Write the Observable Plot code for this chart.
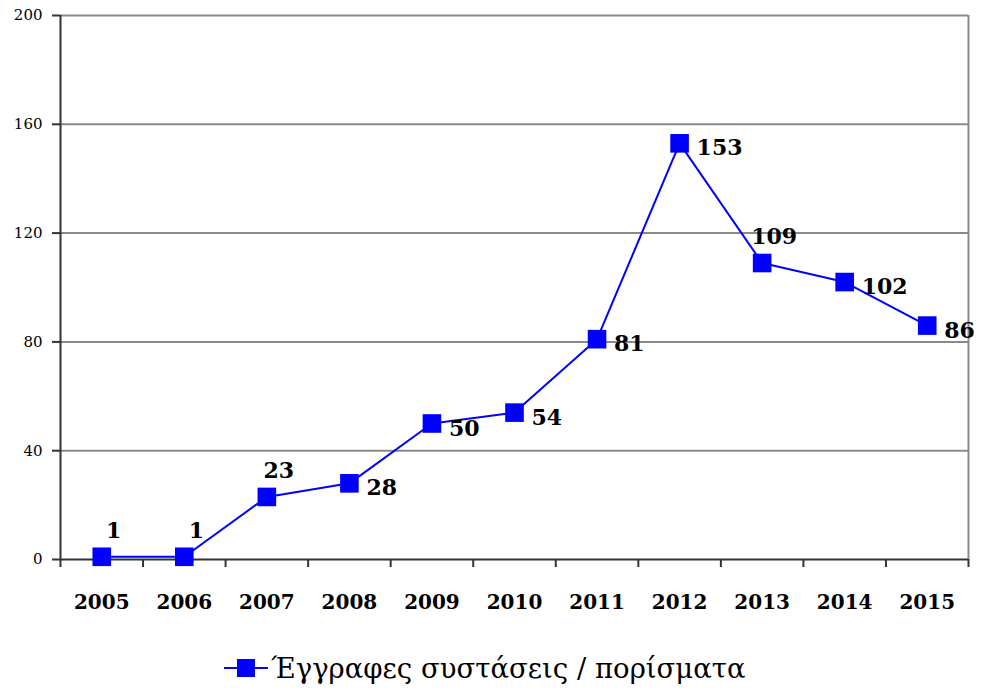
<!DOCTYPE html>
<html>
<head>
<meta charset="utf-8">
<script src="https://cdn.jsdelivr.net/npm/d3@7"></script>
<script src="https://cdn.jsdelivr.net/npm/@observablehq/plot@0.6"></script>
<style>
  html, body { margin: 0; padding: 0; background: #fff; }
  #chart { width: 985px; }
  .legend { display: flex; align-items: center; justify-content: flex-start; padding-left: 224px; height: 66px;
    font-family: "DejaVu Serif", serif; font-size: 27.5px; color: #000; }
  .legend svg { margin-right: 3px; }
</style>
</head>
<body>
<div id="chart"></div>
<script>
const years = ["2005","2006","2007","2008","2009","2010","2011","2012","2013","2014","2015"];
const values = [1, 1, 23, 28, 50, 54, 81, 153, 109, 102, 86];
const yTicks = [0, 40, 80, 120, 160, 200];
const seriesName = "Έγγραφες συστάσεις / πορίσματα";

const data = years.map((y, i) => ({year: y, idx: i + 0.5, value: values[i]}));
const aboveYears = new Set(["2005", "2006", "2007", "2013"]);
const above = data.filter(d => aboveYears.has(d.year));
const right = data.filter(d => !aboveYears.has(d.year));

const blue = "#0000ff";
const chart = Plot.plot({
  width: 985,
  height: 635,
  marginTop: 15,
  marginLeft: 60,
  marginRight: 17,
  marginBottom: 76,
  style: {fontFamily: "DejaVu Serif, serif", background: "#fff"},
  x: {domain: [0, years.length], label: null},
  y: {domain: [0, 200], label: null},
  marks: [
    Plot.ruleY(yTicks.filter(t => t > 0), {stroke: "#8a8a8a", strokeWidth: 2}),
    Plot.ruleX([years.length], {stroke: "#8a8a8a", strokeWidth: 2}),
    Plot.axisY({ticks: yTicks, tickSize: 8, tickPadding: 10, stroke: "#333", strokeWidth: 2, label: null,
      fontSize: 15, fill: "#000", tickFormat: d => String(d)}),
    Plot.axisX({ticks: d3.range(years.length + 1), tickSize: 8, tickFormat: () => "", label: null, stroke: "#333", strokeWidth: 2}),
    Plot.axisX({ticks: data.map(d => d.idx), tickSize: 0, tickPadding: 35, fontSize: 20, fontWeight: "bold", fill: "#000", label: null,
      tickFormat: v => years[Math.round(v - 0.5)]}),
    Plot.ruleX([0], {stroke: "#333", strokeWidth: 2}),
    Plot.ruleY([0], {stroke: "#333", strokeWidth: 2}),
    Plot.line(data, {x: "idx", y: "value", stroke: blue, strokeWidth: 2}),
    Plot.dot(data, {x: "idx", y: "value", symbol: "square", r: 10.5, fill: blue, stroke: "none"}),
    Plot.text(above, {x: "idx", y: "value", text: d => String(d.value), dx: 12, dy: -26,
      fontSize: 22, fontWeight: "bold", fill: "#000"}),
    Plot.text(right, {x: "idx", y: "value", text: d => String(d.value), dx: 17, dy: 5, textAnchor: "start",
      fontSize: 22, fontWeight: "bold", fill: "#000"})
  ]
});
document.getElementById("chart").appendChild(chart);

const legend = document.createElement("div");
legend.className = "legend";
legend.innerHTML = `<svg width="44" height="24"><line x1="0" y1="12" x2="44" y2="12" stroke="${blue}" stroke-width="2"/><rect x="13" y="3" width="18" height="18" fill="${blue}"/></svg><span></span>`;
legend.querySelector("span").textContent = seriesName;
document.body.appendChild(legend);
</script>
</body>
</html>
